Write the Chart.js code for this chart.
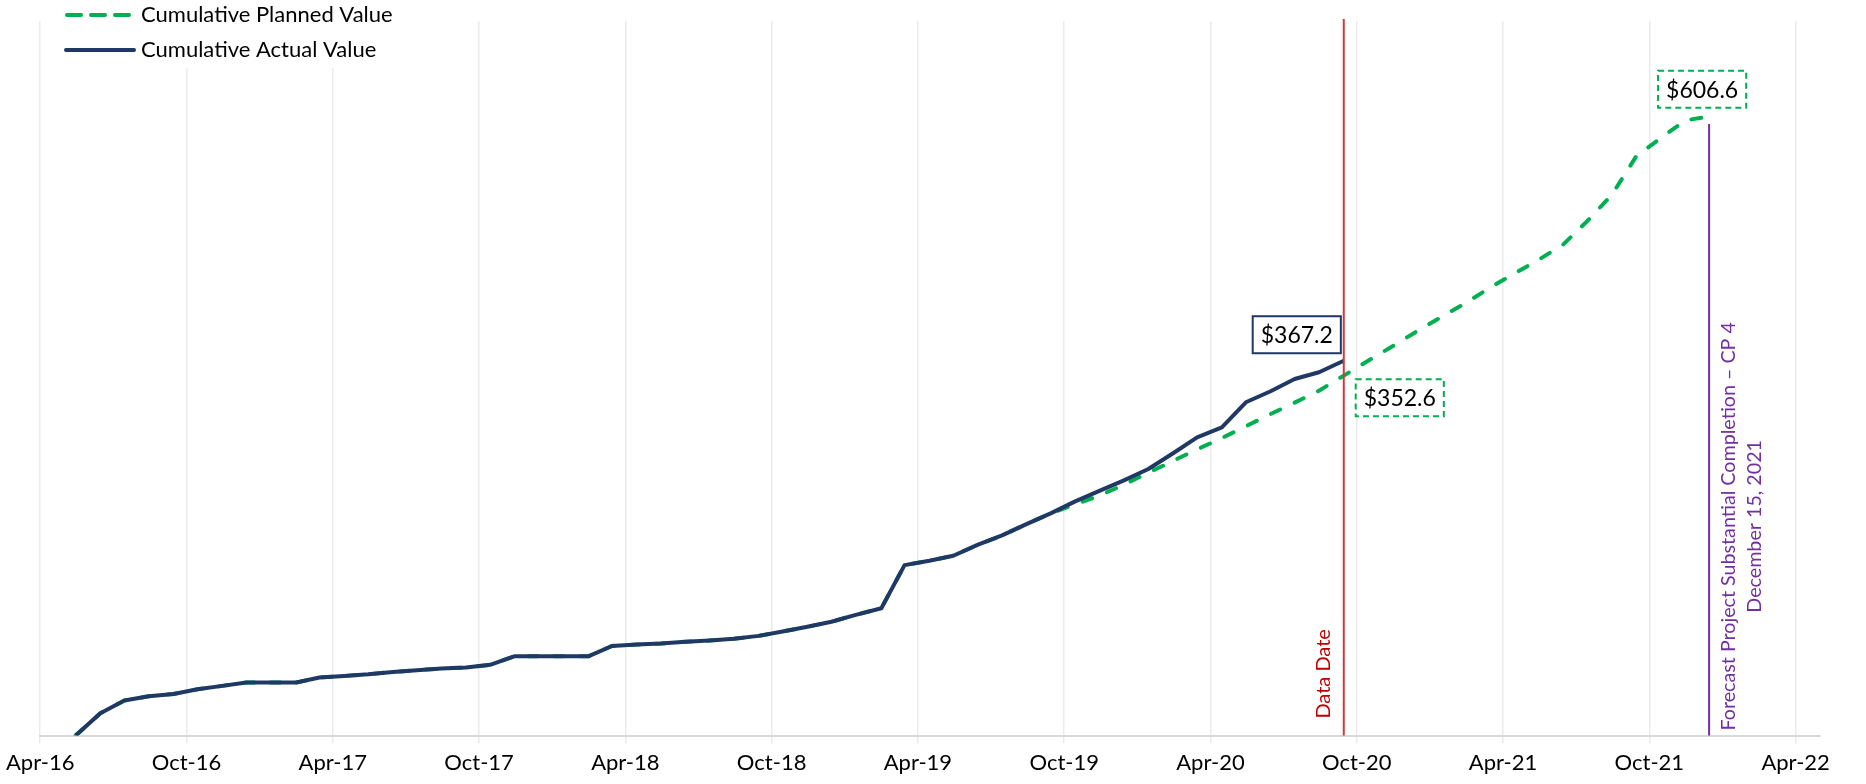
<!DOCTYPE html>
<html>
<head>
<meta charset="utf-8">
<title>Cumulative Planned vs Actual Value</title>
<script src="https://cdn.jsdelivr.net/npm/chart.js@4.4.1/dist/chart.umd.min.js"></script>
<style>
  html, body { margin: 0; padding: 0; background: #fff; }
</style>
</head>
<body>
<canvas id="myChart" width="1866" height="784"></canvas>
<script>
'use strict';

// x axis runs in months counted from Apr-16 (= 0)
let tickLabels = ['Apr-16', 'Oct-16', 'Apr-17', 'Oct-17', 'Apr-18', 'Oct-18', 'Apr-19',
  'Oct-19', 'Apr-20', 'Oct-20', 'Apr-21', 'Oct-21', 'Apr-22'];

// monthly values ($M), one per month, first point May-16
let actualValues = [
  0, 21.9, 34.3, 38.5, 40.8, 45.4, 48.7, 52, 52, 52,
  56.9, 58.5, 60.1, 62.4, 64.1, 65.7, 66.7, 69.3, 77.8, 77.8,
  77.8, 77.8, 87.8, 89.2, 90.2, 91.9, 93.1, 94.8, 97.7, 102,
  106.6, 111.5, 118.3, 124.8, 167, 171.3, 176.2, 187, 196.1, 207.2,
  217.9, 229.4, 239.9, 250, 261.1, 276.8, 292.2, 302, 326.5, 337.3,
  349.3, 355.9, 367.2
];
let plannedValues = [
  0, 21.9, 34.3, 38.5, 40.8, 45.4, 48.7, 52, 52, 52,
  56.9, 58.5, 60.1, 62.4, 64.1, 65.7, 66.7, 69.3, 77.8, 77.8,
  77.8, 77.8, 87.8, 89.2, 90.2, 91.9, 93.1, 94.8, 97.7, 102,
  106.6, 111.5, 118.3, 124.8, 167, 171.3, 176.2, 187, 196.1, 207.2,
  217.9, 226.5, 235.3, 245.8, 257.5, 269.3, 280.4, 291.5, 303, 315,
  326.2, 337.9, 352.6, 367.0, 381.4, 395.8, 409.8, 424.2, 438.6, 452.6,
  466, 481, 504, 529.4, 567.6, 585, 602.6, 606.6
];
let firstYear = 2016;
let firstMonth = 5; // May

let dataDate = [2020, 9, 15];
let forecastDate = [2021, 12, 15];
let forecastLineTop = 599;
let forecastTextLines = ['Forecast Project Substantial Completion \u2013 CP 4', 'December 15, 2021'];

let fontFamily = 'Lato, "Open Sans", sans-serif';
let navy = '#1F3864';
let green = '#00B050';

function monthsFromStart(y, m, d) {
  let daysInMonth = new Date(y, m, 0).getDate();
  return (y - 2016) * 12 + (m - 4) + (d - 1) / daysInMonth;
}

function toPoints(values) {
  let pts = [];
  for (let i = 0; i < values.length; i++) {
    let m = firstMonth - 1 + i;
    let y = firstYear + Math.floor(m / 12);
    pts.push({ x: monthsFromStart(y, (m % 12) + 1, 15), y: values[i] });
  }
  return pts;
}

let actualPoints = toPoints(actualValues);
let plannedPoints = toPoints(plannedValues);

function drawBox(ctx, cx, cy, text, color, dashed) {
  ctx.save();
  ctx.font = '23px ' + fontFamily;
  let w = ctx.measureText(text).width + 16;
  let h = 37;
  ctx.fillStyle = '#fff';
  ctx.fillRect(cx - w / 2, cy - h / 2, w, h);
  ctx.strokeStyle = color;
  ctx.lineWidth = 2;
  if (dashed) ctx.setLineDash([6, 4]);
  ctx.strokeRect(cx - w / 2, cy - h / 2, w, h);
  ctx.setLineDash([]);
  ctx.fillStyle = '#000';
  ctx.textAlign = 'center';
  ctx.textBaseline = 'middle';
  ctx.fillText(text, cx, cy + 1);
  ctx.restore();
}

let overlay = {
  id: 'overlay',
  afterDatasetsDraw(chart) {
    let ctx = chart.ctx;
    let xs = chart.scales.x;
    let ys = chart.scales.y;
    let area = chart.chartArea;

    // data date
    let dx = xs.getPixelForValue(monthsFromStart(...dataDate));
    ctx.save();
    ctx.strokeStyle = '#d03a3a';
    ctx.lineWidth = 2;
    ctx.beginPath();
    ctx.moveTo(dx, area.top - 2);
    ctx.lineTo(dx, area.bottom);
    ctx.stroke();
    ctx.translate(dx - 20, area.bottom - 17);
    ctx.rotate(-Math.PI / 2);
    ctx.fillStyle = '#C00000';
    ctx.font = '20px ' + fontFamily;
    ctx.textAlign = 'left';
    ctx.textBaseline = 'middle';
    ctx.fillText('Data Date', 0, 0);
    ctx.restore();

    // forecast completion
    let fx = xs.getPixelForValue(monthsFromStart(...forecastDate));
    ctx.save();
    ctx.strokeStyle = '#7030A0';
    ctx.lineWidth = 2;
    ctx.beginPath();
    ctx.moveTo(fx, ys.getPixelForValue(forecastLineTop));
    ctx.lineTo(fx, area.bottom);
    ctx.stroke();
    ctx.fillStyle = '#7030A0';
    ctx.font = '19.7px ' + fontFamily;
    ctx.textAlign = 'center';
    ctx.textBaseline = 'middle';
    let cy = ys.getPixelForValue(205);
    for (let i = 0; i < forecastTextLines.length; i++) {
      ctx.save();
      ctx.translate(fx + 20 + i * 26, cy);
      ctx.rotate(-Math.PI / 2);
      ctx.fillText(forecastTextLines[i], 0, 0);
      ctx.restore();
    }
    ctx.restore();

    // value labels
    let aEnd = chart.getDatasetMeta(0).data[actualValues.length - 1];
    let pMeta = chart.getDatasetMeta(1).data;
    let pNow = pMeta[actualValues.length - 1];
    let pEnd = pMeta[plannedValues.length - 1];
    drawBox(ctx, aEnd.x - 47, aEnd.y - 26, '$' + actualValues[actualValues.length - 1].toFixed(1), navy, false);
    drawBox(ctx, pNow.x + 56, pNow.y + 22, '$' + plannedValues[actualValues.length - 1].toFixed(1), green, true);
    drawBox(ctx, pEnd.x - 7, pEnd.y - 27, '$' + plannedValues[plannedValues.length - 1].toFixed(1), green, true);

    // legend over the top left of the plot
    ctx.save();
    ctx.fillStyle = '#fff';
    ctx.fillRect(50, 0, 380, 68);
    ctx.lineWidth = 4;
    ctx.lineCap = 'round';
    ctx.strokeStyle = green;
    ctx.setLineDash([14, 10]);
    ctx.beginPath();
    ctx.moveTo(67, 15);
    ctx.lineTo(133, 15);
    ctx.stroke();
    ctx.setLineDash([]);
    ctx.strokeStyle = navy;
    ctx.beginPath();
    ctx.moveTo(66, 50);
    ctx.lineTo(134, 50);
    ctx.stroke();
    ctx.fillStyle = '#000';
    ctx.font = '22px ' + fontFamily;
    ctx.textBaseline = 'middle';
    ctx.fillText('Cumulative Planned Value', 141, 15);
    ctx.fillText('Cumulative Actual Value', 141, 50);
    ctx.restore();
  }
};

let ctx = document.getElementById('myChart');

new Chart(ctx, {
  type: 'line',
  data: {
    datasets: [{
      label: 'Cumulative Actual Value',
      data: actualPoints,
      borderColor: navy,
      borderWidth: 4,
      borderJoinStyle: 'round',
      pointRadius: 0,
      order: 1
    }, {
      label: 'Cumulative Planned Value',
      data: plannedPoints,
      borderColor: green,
      borderWidth: 4,
      borderDash: [10, 16],
      borderCapStyle: 'round',
      pointRadius: 0,
      order: 2
    }]
  },
  options: {
    responsive: false,
    animation: false,
    layout: { padding: { left: 37, right: 46, top: 21, bottom: 2 } },
    plugins: {
      legend: { display: false },
      tooltip: { enabled: false }
    },
    scales: {
      x: {
        type: 'linear',
        min: 0,
        max: 73,
        afterBuildTicks(scale) {
          scale.ticks = tickLabels.map((t, i) => ({ value: i * 6 }));
        },
        ticks: {
          callback: (v) => tickLabels[Math.round(v / 6)],
          color: '#000',
          font: { family: fontFamily, size: 22 },
          maxRotation: 0,
          autoSkip: false,
          padding: 6
        },
        grid: { color: '#ebebeb', lineWidth: 1.5, tickLength: 8 },
        border: { color: '#d9d9d9', width: 2 }
      },
      y: { display: false, min: 0, max: 700 }
    }
  },
  plugins: [overlay]
});
</script>
</body>
</html>
